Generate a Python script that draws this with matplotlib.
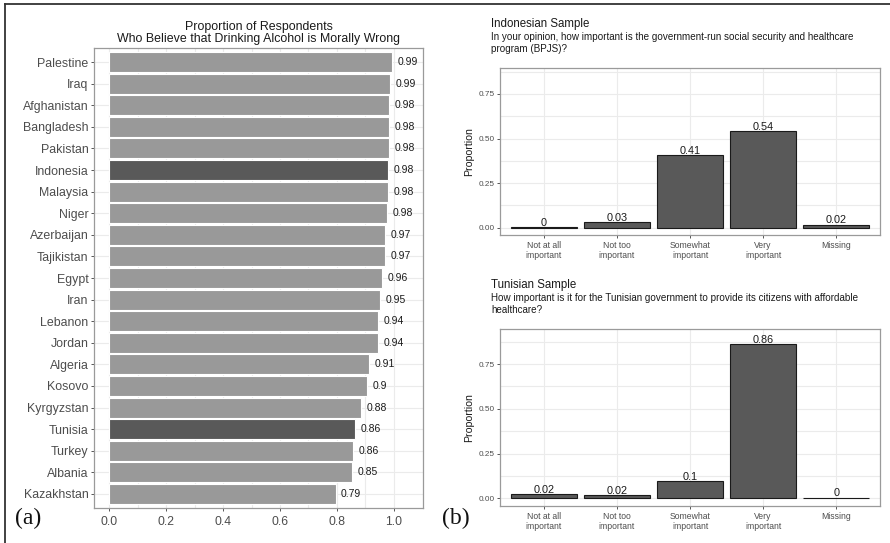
import matplotlib
matplotlib.use("Agg")
import matplotlib.pyplot as plt
import numpy as np
from matplotlib.lines import Line2D

# panel (a) data
countries = ["Palestine", "Iraq", "Afghanistan", "Bangladesh", "Pakistan", "Indonesia",
             "Malaysia", "Niger", "Azerbaijan", "Tajikistan", "Egypt", "Iran", "Lebanon",
             "Jordan", "Algeria", "Kosovo", "Kyrgyzstan", "Tunisia", "Turkey", "Albania",
             "Kazakhstan"]
alcohol_wrong = [0.993, 0.987, 0.983, 0.982, 0.982, 0.980, 0.978, 0.976, 0.970, 0.970,
                 0.958, 0.952, 0.943, 0.943, 0.914, 0.904, 0.884, 0.863, 0.857, 0.854,
                 0.795]
alcohol_labels = ["0.99", "0.99", "0.98", "0.98", "0.98", "0.98", "0.98", "0.98", "0.97",
                  "0.97", "0.96", "0.95", "0.94", "0.94", "0.91", "0.9", "0.88", "0.86",
                  "0.86", "0.85", "0.79"]
highlight = ["Indonesia", "Tunisia"]

# panel (b) data
answer_cats = ["Not at all\nimportant", "Not too\nimportant", "Somewhat\nimportant",
               "Very\nimportant", "Missing"]
indonesia_vals = [0.004, 0.032, 0.407, 0.540, 0.016]
indonesia_labels = ["0", "0.03", "0.41", "0.54", "0.02"]
tunisia_vals = [0.024, 0.018, 0.097, 0.860, 0.004]
tunisia_labels = ["0.02", "0.02", "0.1", "0.86", "0"]

W, H = 890, 543
plt.rcParams["font.family"] = ["Liberation Sans", "DejaVu Sans"]

fig = plt.figure(figsize=(W / 100, H / 100), dpi=100)


def px_axes(x0, y0, x1, y1):
    return fig.add_axes([x0 / W, (H - y1) / H, (x1 - x0) / W, (y1 - y0) / H])


def bw_style(ax):
    for s in ax.spines.values():
        s.set_color("#9a9a9a")
        s.set_linewidth(0.9)
    ax.tick_params(length=2.5, width=0.7, color="#555555", labelcolor="#4d4d4d", pad=1.5)
    ax.set_axisbelow(True)


# ---- (a) horizontal bars
ax = px_axes(94, 48, 423, 508)
bw_style(ax)
y = np.arange(len(countries))
colors = ["#595959" if c in highlight else "#999999" for c in countries]
ax.barh(y, alcohol_wrong, height=0.92, color=colors, edgecolor="white", linewidth=0.8)
for yi, v, lab in zip(y, alcohol_wrong, alcohol_labels):
    ax.annotate(lab, (v, yi), xytext=(4, 0), textcoords="offset points",
                va="center", ha="left", fontsize=7.5, color="#1a1a1a")
ax.set_xlim(-0.053, 1.102)
ax.set_ylim(len(countries) - 0.35, -0.65)
ax.set_yticks(y)
ax.set_yticklabels(countries, fontsize=8.9)
ax.set_xticks([0, 0.2, 0.4, 0.6, 0.8, 1.0])
ax.set_xticklabels(["0.0", "0.2", "0.4", "0.6", "0.8", "1.0"], fontsize=8.7)
ax.set_xticks([0.1, 0.3, 0.5, 0.7, 0.9], minor=True)
ax.tick_params(axis="x", which="minor", length=0)
ax.tick_params(axis="x", pad=3)
ax.grid(True, which="both", color="#ebebeb", linewidth=0.8)
ax.set_title("Proportion of Respondents\nWho Believe that Drinking Alcohol is Morally Wrong",
             fontsize=8.9, color="#1a1a1a", pad=4, linespacing=1.05)


# ---- (b) vertical bars
def sample_panel(box, vals, labels, ylim, title, subtitle):
    ax = px_axes(*box)
    bw_style(ax)
    x = np.arange(len(answer_cats))
    ax.bar(x, vals, width=0.9, color="#595959", edgecolor="#1a1a1a", linewidth=0.8)
    for xi, v, lab in zip(x, vals, labels):
        ax.annotate(lab, (xi, v), xytext=(0, -0.5), textcoords="offset points",
                    ha="center", va="bottom", fontsize=7.8, color="#1a1a1a")
    ax.set_xlim(-0.6, len(answer_cats) - 0.4)
    ax.set_ylim(*ylim)
    ax.set_xticks(x)
    ax.set_xticklabels(answer_cats, fontsize=6.2, linespacing=1.2)
    ax.set_yticks([0, 0.25, 0.5, 0.75])
    ax.set_yticklabels(["0.00", "0.25", "0.50", "0.75"], fontsize=5.9)
    ax.set_yticks([0.125, 0.375, 0.625, 0.875], minor=True)
    ax.tick_params(axis="y", which="minor", length=0)
    ax.grid(True, which="both", color="#ebebeb", linewidth=0.8)
    ax.set_ylabel("Proportion", fontsize=7.6, color="#1a1a1a", labelpad=3)
    x0 = box[0] - 9
    fig.text(x0 / W, 1 - (box[1] - 44) / H, title, fontsize=8.3, color="#1a1a1a",
             va="center", ha="left")
    fig.text(x0 / W, 1 - (box[1] - 25) / H, subtitle, fontsize=7.1, color="#1a1a1a",
             va="center", ha="left", linespacing=1.2)
    return ax


sample_panel((500, 68, 880, 235), indonesia_vals, indonesia_labels, (-0.042, 0.896),
             "Indonesian Sample",
             "In your opinion, how important is the government-run social security and healthcare\nprogram (BPJS)?")
sample_panel((500, 329, 880, 506), tunisia_vals, tunisia_labels, (-0.043, 0.946),
             "Tunisian Sample",
             "How important is it for the Tunisian government to provide its citizens with affordable\nhealthcare?")

# panel letters
fig.text(15 / W, 1 - 518 / H, "(a)", fontsize=17, family="Liberation Serif",
         va="center", ha="left", color="#111111")
fig.text(442 / W, 1 - 518 / H, "(b)", fontsize=17, family="Liberation Serif",
         va="center", ha="left", color="#111111")

# outer frame (top and left edges)
fig.add_artist(Line2D([5 / W, 1], [1 - 4 / H, 1 - 4 / H], color="#333333", linewidth=1.3,
                      transform=fig.transFigure))
fig.add_artist(Line2D([5 / W, 5 / W], [0, 1 - 4 / H], color="#333333", linewidth=1.3,
                      transform=fig.transFigure))

fig.savefig("out.png", dpi=100)
